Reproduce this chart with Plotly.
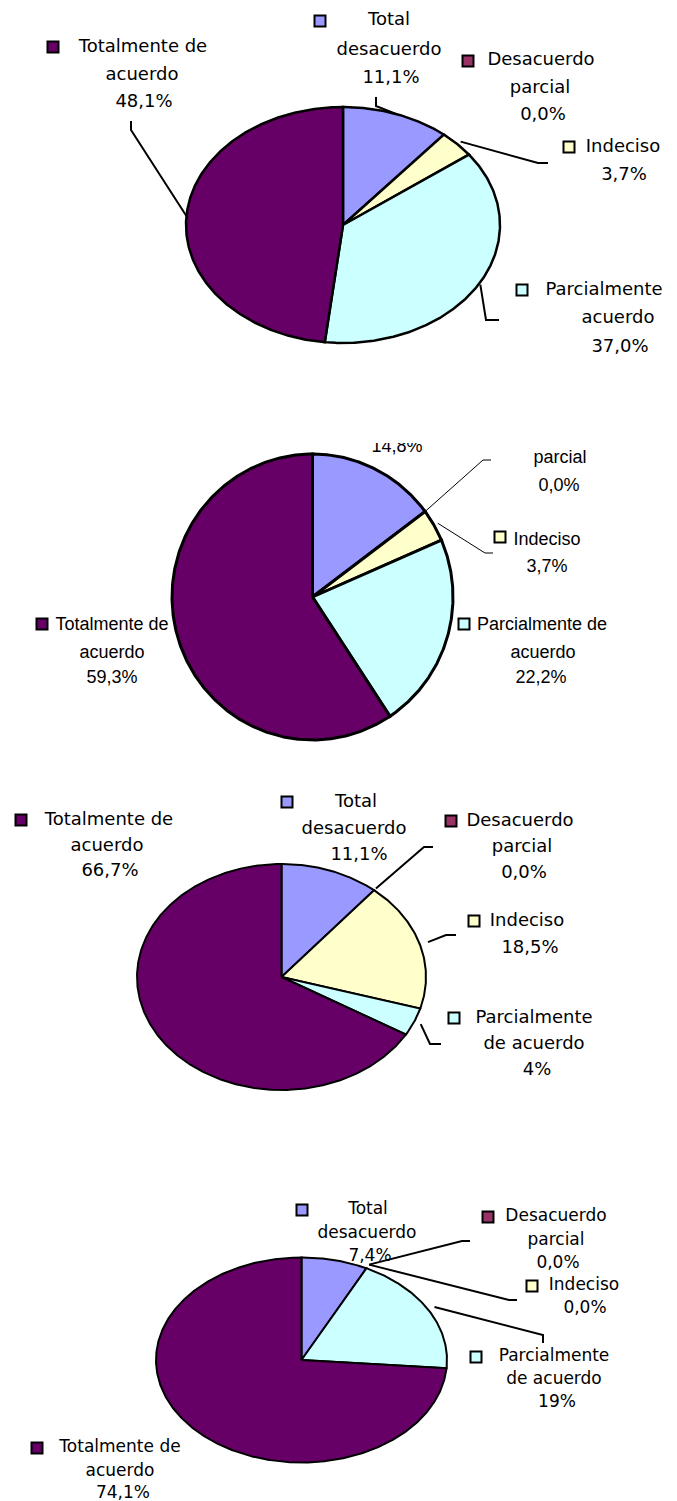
import math
import plotly.graph_objects as go

W, H = 677, 1501

# ---------------- data ----------------
categories = ["Total desacuerdo", "Desacuerdo parcial", "Indeciso",
              "Parcialmente de acuerdo", "Totalmente de acuerdo"]
colors = ["#9999FF", "#993366", "#FFFFCC", "#CCFFFF", "#660066"]

p1_values = [11.1, 0.0, 3.7, 37.0, 48.1]
p1_pct = ["11,1%", "0,0%", "3,7%", "37,0%", "48,1%"]
p1_names = [["Total", "desacuerdo"], ["Desacuerdo", "parcial"], ["Indeciso"],
            ["Parcialmente", "acuerdo"], ["Totalmente de", "acuerdo"]]

p2_values = [14.8, 0.0, 3.7, 22.2, 59.3]
p2_pct = ["14,8%", "0,0%", "3,7%", "22,2%", "59,3%"]
p2_names = [["Total", "desacuerdo"], ["Desacuerdo", "parcial"], ["Indeciso"],
            ["Parcialmente de", "acuerdo"], ["Totalmente de", "acuerdo"]]

p3_values = [11.1, 0.0, 18.5, 4, 66.7]
p3_pct = ["11,1%", "0,0%", "18,5%", "4%", "66,7%"]
p3_names = [["Total", "desacuerdo"], ["Desacuerdo", "parcial"], ["Indeciso"],
            ["Parcialmente", "de acuerdo"], ["Totalmente de", "acuerdo"]]

p4_values = [7.4, 0.0, 0.0, 19, 74.1]
p4_pct = ["7,4%", "0,0%", "0,0%", "19%", "74,1%"]
p4_names = [["Total", "desacuerdo"], ["Desacuerdo", "parcial"], ["Indeciso"],
            ["Parcialmente", "de acuerdo"], ["Totalmente de", "acuerdo"]]

# ---------------- layout (pixel positions) ----------------
geoms = [
    dict(cx=343, cy=225, rx=157, ry=118, top=0, bot=380),
    dict(cx=312.5, cy=597, rx=140.5, ry=143, top=443, bot=760),
    dict(cx=281.5, cy=977, rx=144.5, ry=113, top=760, bot=1130),
    dict(cx=301.5, cy=1360, rx=145.5, ry=102.5, top=1130, bot=1501),
]
# m = legend-key position, xs = text centre per line, ys = line y positions
label_pos = [
    [dict(m=(320, 21), xs=[389, 389, 391], ys=[20, 50, 78]),
     dict(m=(468, 61), xs=[541, 540, 543], ys=[60, 88, 115]),
     dict(m=(569, 147), xs=[623, 624], ys=[147, 175]),
     dict(m=(522, 290), xs=[604, 618, 620], ys=[290, 318, 347]),
     dict(m=(53, 47), xs=[143, 142, 144], ys=[47, 75, 102])],
    [dict(m=(330, 393), xs=[397, 397, 397], ys=[393, 420, 447]),
     dict(m=(495, 431), xs=[560, 560, 559], ys=[431, 458, 486]),
     dict(m=(500, 537), xs=[547, 547], ys=[540, 567]),
     dict(m=(464, 624), xs=[542, 543, 541], ys=[625, 653, 678]),
     dict(m=(42, 624), xs=[112, 112, 112], ys=[625, 653, 678])],
    [dict(m=(287, 802), xs=[356, 354, 359], ys=[802, 829, 855]),
     dict(m=(451, 821), xs=[520, 522, 524], ys=[821, 847, 873]),
     dict(m=(474, 921), xs=[527, 530], ys=[921, 948]),
     dict(m=(454, 1018), xs=[534, 534, 537], ys=[1018, 1044, 1070]),
     dict(m=(21, 820), xs=[109, 107, 110], ys=[820, 846, 871])],
    [dict(m=(302, 1210), xs=[368, 367, 370], ys=[1210, 1234, 1257]),
     dict(m=(488, 1217), xs=[556, 556, 558], ys=[1217, 1241, 1264]),
     dict(m=(532, 1286), xs=[584, 585], ys=[1286, 1309]),
     dict(m=(476, 1357), xs=[554, 554, 557], ys=[1357, 1380, 1403]),
     dict(m=(37, 1448), xs=[120, 120, 123], ys=[1448, 1472, 1494])],
]
leaders = [
    [(0, "mid", 1.0, [(376, 106), (376, 97)]),
     (2, "mid", 1.03, [(538, 163), (548, 163)]),
     (3, "mid", 1.01, [(486, 320), (499, 320)]),
     (4, "mid", 0.99, [(131, 130), (131, 121)])],
    [(1, "start", 1.0, [(483, 460), (491, 460)]),
     (2, "mid", 1.03, [(485, 553), (493, 553)])],
    [(1, "start", 1.02, [(424, 847), (433, 847)]),
     (2, "mid", 1.06, [(446, 935), (456, 935)]),
     (3, "mid", 1.05, [(430, 1044), (441, 1044)])],
    [(1, "start", 1.04, [(462, 1241), (470, 1241)]),
     (2, "start", 1.04, [(509, 1300), (517, 1300)]),
     (3, "mid", 1.05, [(543, 1335), (543, 1343)])],
]
styles = [
    dict(font="DejaVu Sans", size=18, edge=2.5, lead=2.0, clip=False),
    dict(font="Liberation Sans, Arial", size=18, edge=3.0, lead=1.0, clip=True),
    dict(font="DejaVu Sans", size=18, edge=2.0, lead=2.0, clip=False),
    dict(font="DejaVu Sans", size=17, edge=2.0, lead=2.0, clip=False),
]

all_values = [p1_values, p2_values, p3_values, p4_values]
all_pct = [p1_pct, p2_pct, p3_pct, p4_pct]
all_names = [p1_names, p2_names, p3_names, p4_names]

fig = go.Figure()
layout_axes = {}

for k in range(4):
    g = geoms[k]
    st = styles[k]
    idx = k + 1
    xa = "x" if idx == 1 else f"x{idx}"
    ya = "y" if idx == 1 else f"y{idx}"
    xkey = "xaxis" if idx == 1 else f"xaxis{idx}"
    ykey = "yaxis" if idx == 1 else f"yaxis{idx}"
    layout_axes[xkey] = dict(domain=[0, 1], range=[(0 - g["cx"]) / g["rx"], (W - g["cx"]) / g["rx"]],
                             visible=False, fixedrange=True, anchor=ya)
    layout_axes[ykey] = dict(domain=[1 - g["bot"] / H, 1 - g["top"] / H],
                             range=[(g["cy"] - g["bot"]) / g["ry"], (g["cy"] - g["top"]) / g["ry"]],
                             visible=False, fixedrange=True, anchor=xa)

    def to_data(p, g=g):
        return ((p[0] - g["cx"]) / g["rx"], (g["cy"] - p[1]) / g["ry"])

    vals = all_values[k]
    total = float(sum(vals))
    start = 0.0
    angles = []
    for i, v in enumerate(vals):
        a0 = 2 * math.pi * start / total
        a1 = 2 * math.pi * (start + v) / total
        angles.append((a0, a1))
        start += v
        if v <= 0:
            continue
        n = max(3, int(math.degrees(a1 - a0)) * 2 + 2)
        xs = [0.0]
        ys = [0.0]
        for j in range(n + 1):
            t = a0 + (a1 - a0) * j / n
            xs.append(math.sin(t))
            ys.append(math.cos(t))
        xs.append(0.0)
        ys.append(0.0)
        fig.add_trace(go.Scatter(x=xs, y=ys, mode="lines", fill="toself",
                                 fillcolor=colors[i],
                                 line=dict(color="black", width=st["edge"]),
                                 xaxis=xa, yaxis=ya, hoverinfo="skip",
                                 showlegend=False, name=categories[i]))

    for (si, where, rf, pts) in leaders[k]:
        a0, a1 = angles[si]
        t = (a0 + a1) / 2 if where == "mid" else a0
        lx = [rf * math.sin(t)]
        ly = [rf * math.cos(t)]
        for p in pts:
            d = to_data(p)
            lx.append(d[0])
            ly.append(d[1])
        fig.add_trace(go.Scatter(x=lx, y=ly, mode="lines",
                                 line=dict(color="black", width=st["lead"]),
                                 xaxis=xa, yaxis=ya, hoverinfo="skip",
                                 showlegend=False, cliponaxis=st["clip"]))

    mx, my, mc = [], [], []
    for i, lp in enumerate(label_pos[k]):
        d = to_data(lp["m"])
        mx.append(d[0])
        my.append(d[1])
        mc.append(colors[i])
    fig.add_trace(go.Scatter(x=mx, y=my, mode="markers",
                             marker=dict(symbol="square", size=11, color=mc,
                                         line=dict(color="black", width=2)),
                             xaxis=xa, yaxis=ya, hoverinfo="skip",
                             showlegend=False, cliponaxis=st["clip"]))

    tx, ty, tt = [], [], []
    for i, lp in enumerate(label_pos[k]):
        lines = all_names[k][i] + [all_pct[k][i]]
        for line, xx, yy in zip(lines, lp["xs"], lp["ys"]):
            d = to_data((xx, yy))
            tx.append(d[0])
            ty.append(d[1])
            tt.append(line)
    fig.add_trace(go.Scatter(x=tx, y=ty, mode="text", text=tt,
                             textposition="middle center",
                             textfont=dict(family=st["font"], size=st["size"], color="black"),
                             xaxis=xa, yaxis=ya, hoverinfo="skip",
                             showlegend=False, cliponaxis=st["clip"]))

fig.update_layout(width=W, height=H, margin=dict(l=0, r=0, t=0, b=0),
                  paper_bgcolor="white", plot_bgcolor="rgba(0,0,0,0)",
                  showlegend=False, **layout_axes)

fig.write_html("out.html", config={"displayModeBar": False},
               post_script="document.body.style.margin='0';document.body.style.padding='0';")
